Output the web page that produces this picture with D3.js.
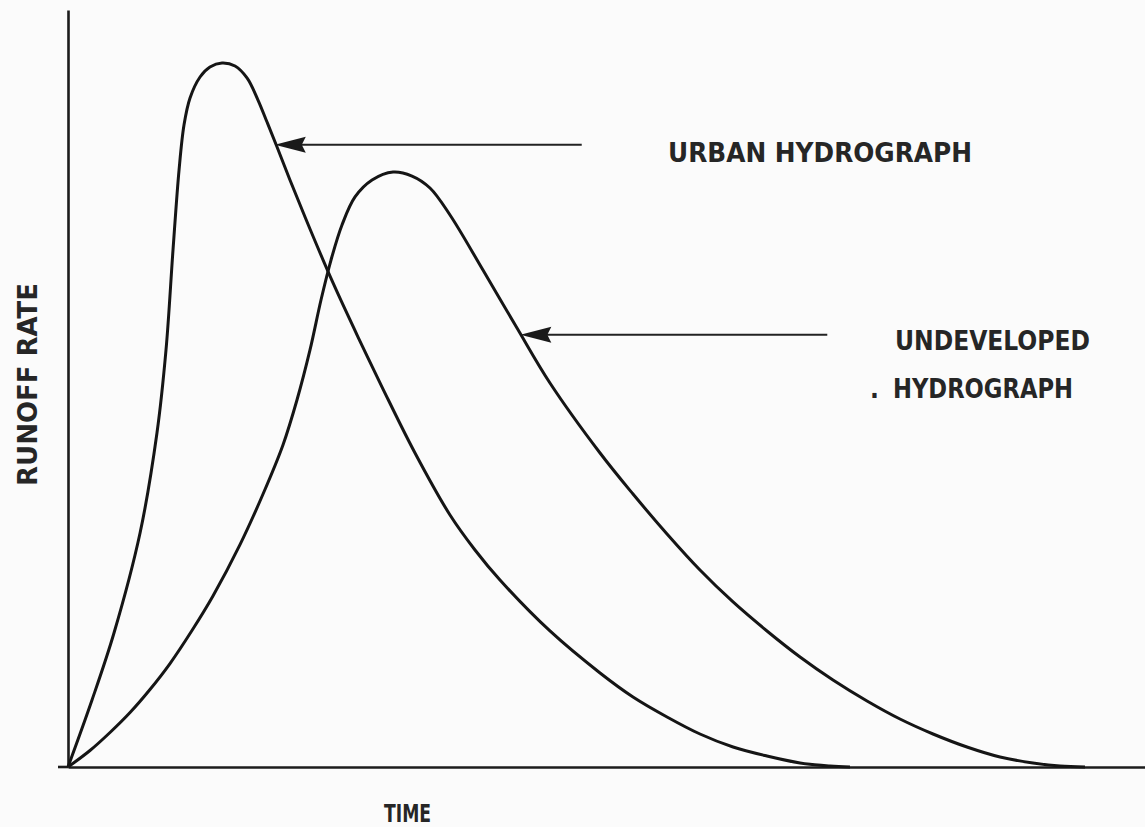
<!DOCTYPE html>
<html>
<head>
<meta charset="utf-8">
<script src="https://cdn.jsdelivr.net/npm/d3@7"></script>
<style>
  html, body { margin: 0; padding: 0; background: #fbfbfb; }
  svg { display: block; }
  .lbl { font-family: "DejaVu Sans Condensed", "DejaVu Sans", sans-serif; font-weight: bold; fill: #262626; }
</style>
</head>
<body>
<svg id="chart" width="1145" height="827"></svg>
<script>
// time (0-100) and runoff rate (0-100)
var urbanTime = [0, 2.23, 4.27, 6.69, 8.26, 9.10, 9.75, 10.31, 10.77, 11.33, 12.26, 13.18, 14.30, 15.51, 16.62, 17.64, 18.48, 19.41, 20.61, 22.47, 24.61, 26.93, 29.25, 32.22, 35.47, 37.79, 40.11, 44.75, 49.40, 52.46, 55.62, 58.68, 61.75, 64.90, 67.97, 70.75, 72.61];
var urbanRate = [0, 8.85, 17.70, 30.91, 44.12, 55.09, 68.30, 78.86, 84.81, 88.38, 91.15, 92.47, 93.00, 92.60, 91.02, 88.11, 85.20, 81.90, 77.54, 71.07, 63.94, 56.80, 49.93, 41.48, 33.29, 28.67, 24.70, 17.97, 12.42, 9.25, 6.61, 4.36, 2.64, 1.45, 0.53, 0.13, 0];

var undevTime = [0, 2.04, 3.90, 5.76, 7.61, 9.47, 11.51, 13.46, 15.97, 18.11, 19.96, 21.26, 22.47, 23.49, 24.42, 25.44, 26.65, 28.23, 30.18, 31.94, 33.61, 35.47, 38.53, 41.69, 44.75, 49.40, 52.46, 55.62, 58.68, 61.75, 64.90, 67.97, 71.03, 74.19, 77.25, 80.32, 83.47, 86.54, 89.60, 92.11, 94.43];
var undevRate = [0, 2.18, 4.56, 7.20, 10.24, 13.67, 18.03, 22.59, 29.37, 36.06, 42.54, 48.48, 55.09, 61.69, 66.97, 71.60, 75.30, 77.54, 78.60, 78.07, 76.49, 72.92, 65.65, 57.99, 50.73, 41.48, 36.06, 30.78, 26.02, 21.80, 17.97, 14.53, 11.49, 8.72, 6.34, 4.36, 2.64, 1.32, 0.53, 0.13, 0];

// arrow callouts: tip on the curve [time, rate], and the time where the shaft ends
var arrowNames = ["urban", "undeveloped"];
var arrowTip = [[19.2, 82.2], [42.0, 57.1]];
var arrowEnd = [47.7, 70.5];

var svg = d3.select("#chart");
var x = d3.scaleLinear().domain([0, 100]).range([68, 1145]);
var y = d3.scaleLinear().domain([0, 100]).range([767, 10]);

// axes: bare lines, no ticks
svg.append("g")
  .attr("transform", "translate(0," + y(0) + ")")
  .call(d3.axisBottom(x).tickValues([]).tickSizeOuter(0))
  .select(".domain").attr("stroke", "#1c1c1c").attr("stroke-width", 2.6);
svg.append("line")
  .attr("x1", 58).attr("x2", x(0)).attr("y1", y(0)).attr("y2", y(0))
  .attr("stroke", "#1c1c1c").attr("stroke-width", 2.6);
svg.append("g")
  .attr("transform", "translate(" + x(0) + ",0)")
  .call(d3.axisLeft(y).tickValues([]).tickSizeOuter(0))
  .select(".domain").attr("stroke", "#1c1c1c").attr("stroke-width", 2.6);

var line = d3.line()
  .x(function(d) { return x(d[0]); })
  .y(function(d) { return y(d[1]); })
  .curve(d3.curveCatmullRom.alpha(0.5));

var series = [d3.zip(urbanTime, urbanRate), d3.zip(undevTime, undevRate)];
svg.selectAll("path.curve")
  .data(series)
  .enter().append("path")
  .attr("class", "curve")
  .attr("d", line)
  .attr("fill", "none")
  .attr("stroke", "#151515")
  .attr("stroke-width", 3)
  .attr("stroke-linejoin", "round");

// arrows pointing at the curves
arrowNames.forEach(function(name, i) {
  var tx = x(arrowTip[i][0]), ty = y(arrowTip[i][1]);
  svg.append("line")
    .attr("x1", tx + 20).attr("x2", x(arrowEnd[i]))
    .attr("y1", ty).attr("y2", ty)
    .attr("stroke", "#222").attr("stroke-width", 2);
  svg.append("path")
    .attr("d", "M" + tx + "," + ty + " L" + (tx + 31) + "," + (ty - 8) + " L" + (tx + 27) + "," + ty + " L" + (tx + 31) + "," + (ty + 8) + "Z")
    .attr("fill", "#1a1a1a");
});

// labels
svg.append("text").attr("class", "lbl")
  .attr("x", 668).attr("y", 162).attr("font-size", 26)
  .attr("textLength", 304).attr("lengthAdjust", "spacingAndGlyphs")
  .text("URBAN  HYDROGRAPH");
svg.append("text").attr("class", "lbl")
  .attr("x", 895).attr("y", 350).attr("font-size", 26)
  .attr("textLength", 195).attr("lengthAdjust", "spacingAndGlyphs")
  .text("UNDEVELOPED");
svg.append("text").attr("class", "lbl")
  .attr("x", 870).attr("y", 398).attr("font-size", 26)
  .text(".");
svg.append("text").attr("class", "lbl")
  .attr("x", 893).attr("y", 398).attr("font-size", 26)
  .attr("textLength", 180).attr("lengthAdjust", "spacingAndGlyphs")
  .text("HYDROGRAPH");
svg.append("text").attr("class", "lbl")
  .attr("transform", "translate(37,486) rotate(-90)")
  .attr("font-size", 26)
  .attr("textLength", 203).attr("lengthAdjust", "spacingAndGlyphs")
  .text("RUNOFF RATE");
svg.append("text").attr("class", "lbl")
  .attr("x", 384).attr("y", 822).attr("font-size", 25)
  .attr("textLength", 47).attr("lengthAdjust", "spacingAndGlyphs")
  .text("TIME");
</script>
</body>
</html>
